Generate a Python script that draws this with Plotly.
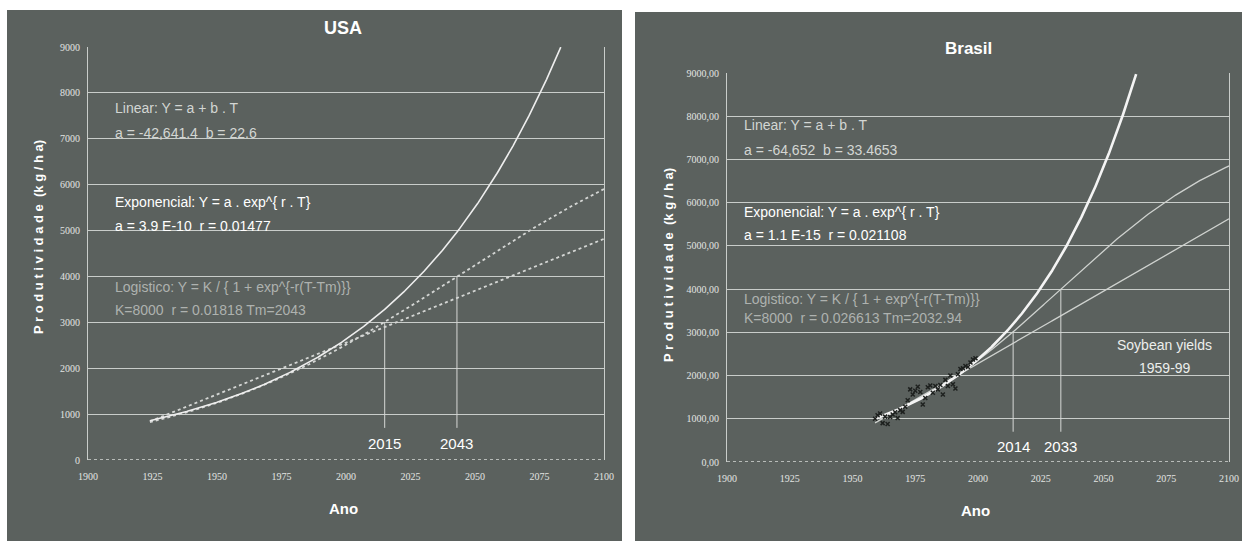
import numpy as np
import plotly.graph_objects as go
from plotly.subplots import make_subplots

# ---- fitted model parameters (as printed on each panel) ----
usa_start, usa_end = 1924, 2100
usa_lin_a, usa_lin_b = -42641.4, 22.6
usa_exp_a, usa_exp_r = 3.9e-10, 0.01477
usa_log_K, usa_log_r, usa_log_Tm = 8000, 0.01818, 2043
usa_marks = [2015, 2043]

bra_start, bra_end = 1959, 2100
bra_lin_a, bra_lin_b = -64652, 33.4653
bra_exp_a, bra_exp_r = 1.1e-15, 0.021108
bra_log_K, bra_log_r, bra_log_Tm = 8000, 0.026613, 2032.94
bra_marks = [2014, 2033]

# ---- observed Brazilian soybean yields (kg/ha), 1959-1999 ----
bra_obs_years = list(range(1959, 2000))
bra_obs_yield = [1000, 1080, 1120, 900, 1050, 880, 1040, 1100, 1150, 1020,
                 1200, 1160, 1280, 1430, 1680, 1560, 1650, 1740, 1620, 1330,
                 1480, 1730, 1770, 1600, 1760, 1680, 1780, 1560, 1900, 1760,
                 2000, 1800, 1700, 2030, 2150, 2170, 2220, 2200, 2300, 2370, 2400]

# ---- axis ticks ----
x_ticks = [1900, 1925, 1950, 1975, 2000, 2025, 2050, 2075, 2100]
y_ticks = [0, 1000, 2000, 3000, 4000, 5000, 6000, 7000, 8000, 9000]
usa_y_labels = [str(v) for v in y_ticks]
bra_y_labels = [f"{v},00" for v in y_ticks]

YMAX = 9000
PANEL = "#5b615e"
GRID = "#c9cdca"
TICKFONT = dict(family="Liberation Serif, DejaVu Serif, serif", size=10, color="#e2e4e2")
TXT = "Liberation Sans, Arial, sans-serif"


def linear(t, a, b):
    return a + b * t


def expo(t, a, r):
    return a * np.exp(r * t)


def logistic(t, K, r, Tm):
    return K / (1 + np.exp(-r * (t - Tm)))


fig = make_subplots(rows=1, cols=2)


def add_panel(col, t0, t1, lin, ex, lg, marks, exp_style, other_style):
    t = np.arange(t0, t1 + 0.25, 0.25)
    y_lin = linear(t, *lin)
    y_exp = expo(t, *ex)
    y_log = logistic(t, *lg)
    keep = y_exp <= YMAX * 1.001
    fig.add_trace(go.Scatter(x=t, y=y_lin, mode="lines", line=other_style,
                             name="Linear", showlegend=False), row=1, col=col)
    fig.add_trace(go.Scatter(x=t, y=y_log, mode="lines", line=other_style,
                             name="Logístico", showlegend=False), row=1, col=col)
    fig.add_trace(go.Scatter(x=t[keep], y=y_exp[keep], mode="lines", line=exp_style,
                             name="Exponencial", showlegend=False), row=1, col=col)
    # vertical markers up to the logistic curve
    for m in marks:
        fig.add_trace(go.Scatter(x=[m, m], y=[700, logistic(m, *lg)], mode="lines",
                                 line=dict(color="#d6d8d6", width=1),
                                 showlegend=False, hoverinfo="skip"), row=1, col=col)


add_panel(1, usa_start, usa_end,
          (usa_lin_a, usa_lin_b), (usa_exp_a, usa_exp_r),
          (usa_log_K, usa_log_r, usa_log_Tm), usa_marks,
          dict(color="#eeeeee", width=1.6),
          dict(color="#d4d6d4", width=1.8, dash="dot"))

add_panel(2, bra_start, bra_end,
          (bra_lin_a, bra_lin_b), (bra_exp_a, bra_exp_r),
          (bra_log_K, bra_log_r, bra_log_Tm), bra_marks,
          dict(color="#f4f4f4", width=2.6),
          dict(color="#cfd2cf", width=1.3))

fig.add_trace(go.Scatter(x=bra_obs_years, y=bra_obs_yield, mode="markers",
                         marker=dict(symbol="x-thin", size=4, color="#1e211f",
                                     line=dict(color="#1e211f", width=1.5)),
                         showlegend=False, name="Soybean yields"), row=1, col=2)

# zero line drawn as a dotted rule
for col in (1, 2):
    fig.add_trace(go.Scatter(x=[1900, 2100], y=[0, 0], mode="lines",
                             line=dict(color="#d8dad8", width=1.5, dash="dot"),
                             showlegend=False, hoverinfo="skip"), row=1, col=col)

W, H = 1242, 541
fig.update_layout(
    width=W, height=H, margin=dict(l=0, r=0, t=0, b=0, autoexpand=False),
    paper_bgcolor="white", plot_bgcolor="rgba(0,0,0,0)",
    showlegend=False,
)

fig.update_xaxes(range=[1900, 2100], tickvals=x_ticks, ticks="", showgrid=False,
                 zeroline=False, showline=False, tickfont=TICKFONT, ticklabelstandoff=9,
                 automargin=False)
fig.update_yaxes(range=[0, YMAX], tickvals=y_ticks, ticks="", showgrid=True,
                 gridcolor=GRID, gridwidth=1, zeroline=False, showline=True,
                 mirror=True, linecolor=GRID, linewidth=1, tickfont=TICKFONT,
                 ticklabelstandoff=5, automargin=False)
fig.update_layout(
    xaxis=dict(domain=[88 / W, 604 / W]),
    yaxis=dict(domain=[1 - 460 / H, 1 - 47 / H], ticktext=usa_y_labels),
    xaxis2=dict(domain=[727 / W, 1229 / W]),
    yaxis2=dict(domain=[1 - 462 / H, 1 - 73 / H], ticktext=bra_y_labels),
)

# dark panel backgrounds
fig.add_shape(type="rect", xref="paper", yref="paper", layer="below",
              x0=7 / W, x1=622 / W, y0=0, y1=1 - 10 / H,
              fillcolor=PANEL, line=dict(width=0))
fig.add_shape(type="rect", xref="paper", yref="paper", layer="below",
              x0=635 / W, x1=1, y0=0, y1=1 - 12 / H,
              fillcolor=PANEL, line=dict(width=0))

ann = []


def paper_text(x, y, text, size, angle=0, color="white"):
    ann.append(dict(xref="paper", yref="paper", x=x / W, y=1 - y / H, text=text,
                    showarrow=False, textangle=angle, xanchor="center", yanchor="middle",
                    font=dict(family="Liberation Sans, Arial, sans-serif", size=size,
                              color=color)))


def data_text(xr, yr, x, y, text, color, size=14, anchor="left"):
    ann.append(dict(xref=xr, yref=yr, x=x, y=y, text=text, showarrow=False,
                    xanchor=anchor, yanchor="middle",
                    font=dict(family=TXT, size=size, color=color)))


# titles and axis titles
paper_text(343, 28, "<b>USA</b>", 18)
paper_text(968, 48, "<b>Brasil</b>", 17)
paper_text(343, 508, "<b>Ano</b>", 15)
paper_text(975, 510, "<b>Ano</b>", 15)
paper_text(38, 237, "<b>P r o d u t i v i d a d e  (k g / h a)</b>", 13, angle=-90)
paper_text(668, 265, "<b>P r o d u t i v i d a d e  (k g / h a)</b>", 13, angle=-90)

LIN_C, EXP_C, LOG_C = "#d3d6d3", "#ffffff", "#aeb2af"

# USA equations
data_text("x", "y", 1909.7, 7669, "Linear: Y = a + b . T", LIN_C)
data_text("x", "y", 1909.7, 7124, "a = -42,641.4  b = 22.6", LIN_C)
data_text("x", "y", 1909.7, 5621, "Exponencial: Y = a . exp^{ r . T}", EXP_C)
data_text("x", "y", 1909.7, 5098, "a = 3.9 E-10  r = 0.01477", EXP_C)
data_text("x", "y", 1909.7, 3769, "Logistico: Y = K / { 1 + exp^{-r(T-Tm)}}", LOG_C)
data_text("x", "y", 1909.7, 3268, "K=8000  r = 0.01818 Tm=2043", LOG_C)
for m in usa_marks:
    data_text("x", "y", m, 370, str(m), "#ffffff", size=15, anchor="center")

# Brasil equations
data_text("x2", "y2", 1906, 7797, "Linear: Y = a + b . T", LIN_C)
data_text("x2", "y2", 1906, 7219, "a = -64,652  b = 33.4653", LIN_C)
data_text("x2", "y2", 1906, 5784, "Exponencial: Y = a . exp^{ r . T}", EXP_C)
data_text("x2", "y2", 1906, 5252, "a = 1.1 E-15  r = 0.021108", EXP_C)
data_text("x2", "y2", 1906, 3771, "Logistico: Y = K / { 1 + exp^{-r(T-Tm)}}", LOG_C)
data_text("x2", "y2", 1906, 3332, "K=8000  r = 0.026613 Tm=2032.94", LOG_C)
for m in bra_marks:
    data_text("x2", "y2", m, 370, str(m), "#ffffff", size=15, anchor="center")
data_text("x2", "y2", 2074.5, 2707, "Soybean yields", "#eceeec", size=14, anchor="center")
data_text("x2", "y2", 2074.5, 2175, "1959-99", "#eceeec", size=14, anchor="center")

fig.update_layout(annotations=ann)

fig.write_html("out.html")
